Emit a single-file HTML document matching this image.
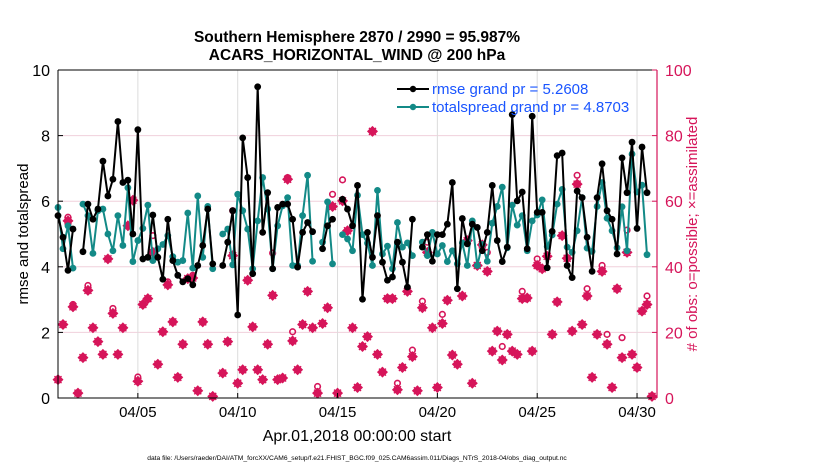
<!DOCTYPE html>
<html><head><meta charset="utf-8"><style>
body{margin:0;background:#fff;width:830px;height:470px;overflow:hidden;font-family:"Liberation Sans",sans-serif}
svg text{font-family:"Liberation Sans",sans-serif}
</style></head><body>
<svg id="chart" width="830" height="470" xmlns="http://www.w3.org/2000/svg">
<rect width="830" height="470" fill="#fff"/>
<g id="grid"></g><g id="marks"></g><g id="axes"></g>
<text x="357" y="42" font-size="15.5" font-weight="bold" text-anchor="middle">Southern Hemisphere 2870 / 2990 = 95.987%</text>
<text x="357" y="60" font-size="15.5" font-weight="bold" text-anchor="middle">ACARS_HORIZONTAL_WIND @ 200 hPa</text>
<text transform="translate(28,234) rotate(-90)" font-size="15" text-anchor="middle">rmse and totalspread</text>
<text transform="translate(697,234) rotate(-90)" font-size="15" fill="#d6155a" text-anchor="middle"># of obs: o=possible; ×=assimilated</text>
<text x="357" y="441" font-size="16" text-anchor="middle">Apr.01,2018 00:00:00 start</text>
<text x="357" y="460" font-size="6.7" text-anchor="middle">data file: /Users/raeder/DAI/ATM_forcXX/CAM6_setup/f.e21.FHIST_BGC.f09_025.CAM6assim.011/Diags_NTrS_2018-04/obs_diag_output.nc</text>
<g>
<line x1="397" y1="89" x2="429" y2="89" stroke="#000" stroke-width="2"/><circle cx="413" cy="89" r="3.2" fill="#000"/>
<text x="432" y="94" font-size="15" fill="#1a55ff">rmse grand pr = 5.2608</text>
<line x1="397" y1="107" x2="429" y2="107" stroke="#138a87" stroke-width="2"/><circle cx="413" cy="107" r="3.2" fill="#138a87"/>
<text x="432" y="112" font-size="15" fill="#1a55ff">totalspread grand pr = 4.8703</text>
</g>
</svg>
<script>
const rmse=[5.56,4.90,3.89,5.15,null,4.46,5.91,5.45,5.76,7.22,6.16,6.67,8.43,6.57,6.64,5.0,8.18,4.24,4.29,5.58,4.29,3.62,5.45,4.19,3.74,3.54,3.64,3.45,4.04,4.65,5.76,4.09,null,4.04,4.75,5.71,2.53,7.93,6.72,
3.79,9.49,5.05,6.26,3.94,5.81,5.91,5.91,5.45,3.99,5.05,5.35,5.07,null,4.55,5.25,5.45,null,6.06,5.76,5.25,6.48,3.01,5.05,4.29,5.56,4.14,3.59,3.69,4.75,4.14,3.38,5.45,null,4.60,4.98,4.17,4.98,4.98,
5.30,6.57,3.33,5.47,4.70,5.3,5.20,4.49,5.05,6.48,4.80,4.16,4.60,8.64,6.01,6.28,4.55,8.59,5.66,5.66,3.97,5.08,7.39,7.47,4.04,3.67,6.31,6.11,4.90,3.86,6.11,7.14,5.71,5.45,4.39,7.32,6.26,7.80,5.17,7.65,6.26,null];
const spread=[5.81,4.55,5.25,3.96,null,5.91,5.56,4.41,5.71,5.76,5.0,4.49,5.56,4.65,6.41,4.16,4.80,5.17,5.88,4.19,4.55,4.68,4.95,4.31,4.14,4.19,5.64,3.96,6.16,4.29,5.84,3.94,null,5.0,5.15,4.06,6.21,5.71,5.15,
3.94,5.40,6.72,5.76,3.94,5.25,5.86,6.11,4.04,4.04,5.56,6.79,4.17,null,4.75,5.98,4.09,null,4.98,4.85,4.49,6.18,4.98,4.72,4.04,6.33,4.39,4.63,3.94,5.35,4.60,4.73,4.34,null,4.75,4.34,5.05,4.39,4.65,
4.16,4.49,4.09,4.73,4.04,5.40,4.04,4.68,4.17,5.33,5.84,6.43,4.58,5.88,5.27,5.56,4.49,5.40,5.58,6.04,4.62,4.97,5.91,6.36,4.60,4.44,5.10,6.11,4.57,4.47,5.84,6.57,5.48,5.10,4.58,5.83,4.49,7.44,6.28,6.49,4.37,null];
const nAssim=[5.6,22.4,54.0,27.8,1.5,12.3,32.8,21.4,17.2,13.3,42.4,25.8,13.3,21.4,52.5,60.3,5.1,28.5,30.3,44.4,10.3,20.2,34.5,23.2,6.3,16.4,36.4,36.6,2.2,23.2,16.4,0.5,null,7.6,17.2,43.4,4.5,8.6,35.9,
21.7,8.6,5.6,16.4,31.3,5.6,6.1,66.7,17.4,8.6,22.4,32.5,21.4,1.5,22.7,27.5,58.4,1.5,60.1,51.0,21.4,3.2,15.7,18.7,81.3,13.3,7.9,30.3,30.3,2.5,9.3,32.5,12.6,2.2,27.5,44.4,21.4,3.2,22.7,29.8,
13.1,10.3,31.1,48.0,4.5,40.4,46.7,38.6,14.3,20.4,11.6,19.4,14.3,13.3,30.3,30.5,14.3,40.4,39.4,43.2,19.4,29.3,49.5,42.6,20.4,65.2,22.4,31.1,6.3,19.4,38.6,16.4,3.2,33.3,12.3,44.4,13.3,9.3,26.5,28.5,0.5];
const possibleIdx=[2,3,6,11,16,19,22,27,35,43,46,47,52,55,57,68,71,73,74,77,86,89,93,96,104,106,109,110,113,114,118];
const possibleVal=[55.1,28.5,34.3,27.3,6.4,49.5,35.4,37.4,57.1,44.2,67.2,20.2,3.5,62.1,66.5,4.5,14.6,29.5,47.5,25.5,44.4,15.7,32.5,42.4,67.9,33.3,40.4,19.4,18.4,51.2,31.1];
const yTicks=[0,2,4,6,8,10];
const y2Ticks=[0,20,40,60,80,100];
const xTickDays=[4,9,14,19,24,29];
const xTickLabels=["04/05","04/10","04/15","04/20","04/25","04/30"];

const NS="http://www.w3.org/2000/svg";
const X0=58,X1=657,Y0=398,Y1=70,PINK="#d6155a",TEAL="#138a87";
const xs=d=>X0+d/30*(X1-X0);
const ys=v=>Y0-v/10*(Y0-Y1);
const y2s=v=>Y0-v/100*(Y0-Y1);
const tOf=i=>i/4;
function el(tag,attrs,parent){const e=document.createElementNS(NS,tag);for(const k in attrs)e.setAttribute(k,attrs[k]);parent.appendChild(e);return e;}
const grid=document.getElementById('grid'),marks=document.getElementById('marks'),axes=document.getElementById('axes');
yTicks.slice(1,-1).forEach(v=>{const l=el('line',{x1:X0,x2:X1,y1:ys(v),y2:ys(v),stroke:'#f0d0dc','stroke-width':1},grid);

});
xTickDays.forEach(d=>{const l=el('line',{x1:xs(d),x2:xs(d),y1:Y1,y2:Y0,stroke:'#dcdcdc','stroke-width':1},grid);

});
function series(vals,color,name){
  let seg=[];const segs=[];
  vals.forEach((v,i)=>{if(v==null){if(seg.length)segs.push(seg);seg=[];}else seg.push([xs(tOf(i)),ys(v)]);});
  if(seg.length)segs.push(seg);
  segs.forEach(s=>{const p=el('polyline',{points:s.map(q=>q.join(',')).join(' '),fill:'none',stroke:color,'stroke-width':2,'stroke-linejoin':'round'},marks);
  
  });
  vals.forEach((v,i)=>{if(v==null)return;const c=el('circle',{cx:xs(tOf(i)),cy:ys(v),r:3.4,fill:color},marks);
  
  });
}
possibleIdx.forEach((i,k)=>{const c=el('circle',{cx:xs(tOf(i)),cy:y2s(possibleVal[k]),r:2.8,fill:'none',stroke:PINK,'stroke-width':1.6},marks);

});
nAssim.forEach((v,i)=>{if(v==null)return;const x=xs(tOf(i)),y=y2s(v);
const g=el('path',{d:`M${x-4.5} ${y}L${x} ${y-4.5}L${x+4.5} ${y}L${x} ${y+4.5}Z M${x-5} ${y}H${x+5} M${x} ${y-5}V${y+5} M${x-3.5} ${y-3.5}L${x+3.5} ${y+3.5} M${x+3.5} ${y-3.5}L${x-3.5} ${y+3.5}`,fill:PINK,stroke:PINK,'stroke-width':1.4},marks);

});
series(spread,TEAL,'totalspread');
series(rmse,'#000','rmse');
el('path',{d:`M${X0} ${Y1}V${Y0}H${X1} M${X0} ${Y1}H${X1}`,stroke:'#000',fill:'none','stroke-width':1},axes);
el('line',{x1:X1,x2:X1,y1:Y1,y2:Y0,stroke:PINK,'stroke-width':1.2},axes);
yTicks.forEach(v=>{el('line',{x1:X0,x2:X0+5,y1:ys(v),y2:ys(v),stroke:'#000'},axes);
const t=el('text',{x:X0-8,y:ys(v)+6,'font-size':16,'text-anchor':'end'},axes);t.textContent=v;

});
y2Ticks.forEach(v=>{el('line',{x1:X1-5,x2:X1,y1:y2s(v),y2:y2s(v),stroke:PINK},axes);
const t=el('text',{x:X1+8,y:y2s(v)+6,'font-size':16,fill:PINK},axes);t.textContent=v;

});
xTickDays.forEach((d,k)=>{el('line',{x1:xs(d),x2:xs(d),y1:Y0,y2:Y0-5,stroke:'#000'},axes);
const t=el('text',{x:xs(d),y:Y0+19,'font-size':15,'text-anchor':'middle'},axes);t.textContent=xTickLabels[k];

});
</script>
</body></html>
